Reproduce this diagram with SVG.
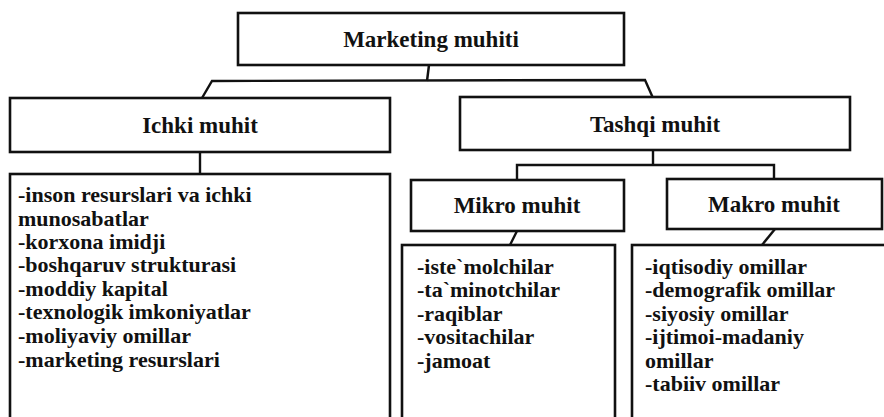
<svg xmlns="http://www.w3.org/2000/svg" width="884" height="417" viewBox="0 0 884 417">
  <style>
    .box { fill: #ffffff; stroke: #111111; stroke-width: 2.6; }
    .link { fill: none; stroke: #111111; stroke-width: 2.4; stroke-linejoin: miter; }
    .head { font-weight: bold; font-size: 23px; fill: #111111; text-anchor: middle; }
    .item { font-weight: bold; font-size: 22px; fill: #111111; }
  </style>
  <rect width="884" height="417" fill="#ffffff"/>

  <!-- connectors -->
  <g id="connectors">
    <path class="link" d="M429,65 L427,81"/>
    <path class="link" d="M202,98 L212,81 L645,80 L653,98"/>
    <path class="link" d="M200,152 L200,174"/>
    <path class="link" d="M653,150 L653,165"/>
    <path class="link" d="M517,180 L517,165 L774,165 L774,179"/>
    <path class="link" d="M517,231 L510,245"/>
    <path class="link" d="M775,229 L762,245"/>
  </g>

  <g font-family="'Liberation Serif', 'Times New Roman', Times, serif">
    <!-- root -->
    <g id="marketing-muhiti">
      <rect class="box" x="238" y="13" width="386" height="52"/>
      <text class="head" x="431" y="47">Marketing muhiti</text>
    </g>

    <!-- first level -->
    <g id="ichki-muhit">
      <rect class="box" x="10" y="98" width="380" height="54"/>
      <text class="head" x="200" y="133">Ichki muhit</text>
    </g>
    <g id="tashqi-muhit">
      <rect class="box" x="460" y="97" width="390" height="53"/>
      <text class="head" x="655" y="132">Tashqi muhit</text>
    </g>

    <!-- second level -->
    <g id="mikro-muhit">
      <rect class="box" x="411" y="180" width="213" height="51"/>
      <text class="head" x="517" y="213">Mikro muhit</text>
    </g>
    <g id="makro-muhit">
      <rect class="box" x="667" y="179" width="215" height="50"/>
      <text class="head" x="774" y="212">Makro muhit</text>
    </g>

    <!-- lists -->
    <g id="ichki-list">
      <rect class="box" x="10" y="174" width="380" height="260"/>
      <text class="item" x="18" y="202">-inson resurslari va ichki</text>
      <text class="item" x="18" y="226">munosabatlar</text>
      <text class="item" x="18" y="249">-korxona imidji</text>
      <text class="item" x="18" y="272">-boshqaruv strukturasi</text>
      <text class="item" x="18" y="296">-moddiy kapital</text>
      <text class="item" x="18" y="319">-texnologik imkoniyatlar</text>
      <text class="item" x="18" y="343">-moliyaviy omillar</text>
      <text class="item" x="18" y="367">-marketing resurslari</text>
    </g>
    <g id="mikro-list">
      <rect class="box" x="402" y="245" width="213" height="190"/>
      <text class="item" x="417" y="274">-iste`molchilar</text>
      <text class="item" x="417" y="297">-ta`minotchilar</text>
      <text class="item" x="417" y="321">-raqiblar</text>
      <text class="item" x="417" y="344">-vositachilar</text>
      <text class="item" x="417" y="368">-jamoat</text>
    </g>
    <g id="makro-list">
      <rect class="box" x="632" y="245" width="270" height="190"/>
      <text class="item" x="645" y="274">-iqtisodiy omillar</text>
      <text class="item" x="645" y="297">-demografik omillar</text>
      <text class="item" x="645" y="321">-siyosiy omillar</text>
      <text class="item" x="645" y="344">-ijtimoi-madaniy</text>
      <text class="item" x="645" y="368">omillar</text>
      <text class="item" x="645" y="391">-tabiiv omillar</text>
    </g>
  </g>
</svg>
